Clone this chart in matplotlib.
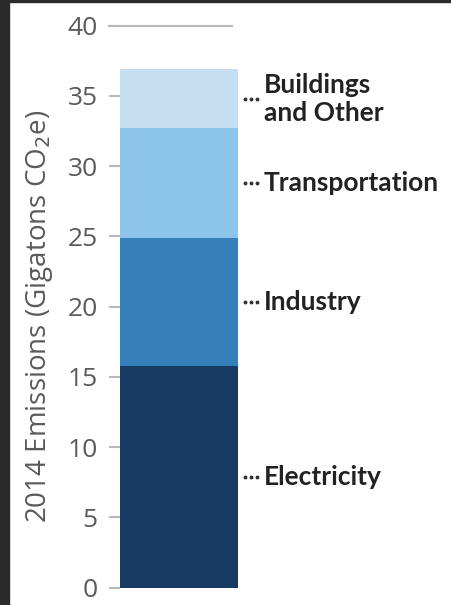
import matplotlib.pyplot as plt
from matplotlib.patches import Rectangle

sectors = ['Electricity', 'Industry', 'Transportation', 'Buildings\nand Other']
emissions = [15.8, 9.1, 7.8, 4.2]
colors = ['#173a62', '#3580b8', '#8cc4ea', '#c5def2']
yticks = [0, 5, 10, 15, 20, 25, 30, 35, 40]

fig = plt.figure(figsize=(4.52, 6.05), dpi=100)
ax = fig.add_axes([120 / 452, 17.3 / 605, 120 / 452, 562 / 605])

bottom = 0
for name, val, c in zip(sectors, emissions, colors):
    ax.bar(0, val, width=0.985, bottom=bottom, color=c, align='edge', zorder=2)
    mid = bottom + val / 2
    # three-dot leader
    ax.plot([1.045, 1.095, 1.145], [mid] * 3, ls='none', marker='o', ms=1.8,
            color='#333333', clip_on=False)
    ax.text(1.2, mid, name, ha='left', va='center', fontsize=19, fontweight='bold',
            family='Lato', color='#222222', linespacing=1.2)
    bottom += val

ax.set_xlim(0, 1)
ax.set_ylim(0, 40)
ax.set_xticks([])
ax.set_yticks(yticks)
ax.tick_params(axis='y', length=8, width=1.5, color='#b8b8b8', pad=8,
               labelsize=19, labelcolor='#5a5a5a')
for lbl in ax.get_yticklabels():
    lbl.set_family('Open Sans')
for s in ax.spines.values():
    s.set_visible(False)

# long line at the top tick
ax.plot([-0.09, 0.93], [40, 40], color='#b8b8b8', lw=1.5, clip_on=False)

fig.text(40 / 452, 1 - 316 / 605, '2014 Emissions (Gigatons CO$_2$e)', rotation=90,
         ha='center', va='center', fontsize=20, color='#5a5a5a', family='Open Sans')

# dark frame on left and top
fig.patches.append(Rectangle((0, 0), 9 / 452, 1, transform=fig.transFigure,
                             color='#2b2b2b', zorder=10))
fig.patches.append(Rectangle((0, 1 - 2 / 605), 1, 2 / 605, transform=fig.transFigure,
                             color='#2b2b2b', zorder=10))

fig.savefig('out.png', dpi=100)
